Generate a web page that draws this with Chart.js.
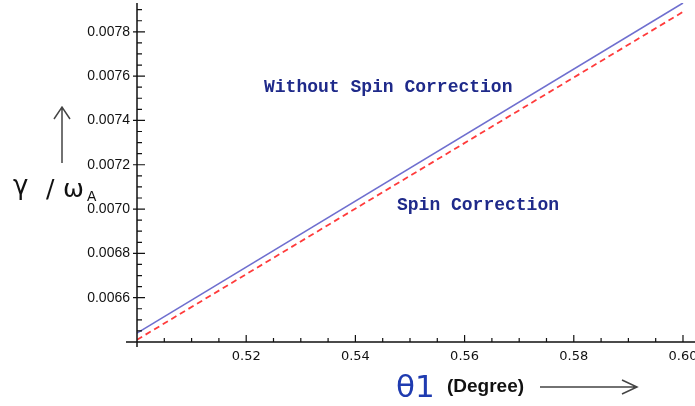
<!DOCTYPE html>
<html>
<head>
<meta charset="utf-8">
<script src="https://cdn.jsdelivr.net/npm/chart.js@4"></script>
<style>
  html, body { margin: 0; padding: 0; background: #fff; }
  #wrap { width: 695px; height: 406px; position: relative; }
</style>
</head>
<body>
<div id="wrap"><canvas id="chart"></canvas></div>
<script>
// --- data ---
const thetaDeg = [0.50, 0.60];
const withoutSpin = [0.00644, 0.00793];
const withSpin = [0.00641, 0.00789];
const xTicks = [0.52, 0.54, 0.56, 0.58, 0.60];
const yTicks = [0.0066, 0.0068, 0.0070, 0.0072, 0.0074, 0.0076, 0.0078];

const toPoints = (xs, ys) => xs.map((v, i) => ({ x: v, y: ys[i] }));

// axes, inward ticks, titles and annotations
const decorPlugin = {
    id: 'decor',
    afterDraw(chart) {
        const { ctx, chartArea: a, scales: { x, y } } = chart;
        ctx.save();
        ctx.strokeStyle = '#111';
        ctx.lineWidth = 1.5;

        // axis lines
        ctx.beginPath();
        ctx.moveTo(a.left, a.top);
        ctx.lineTo(a.left, a.bottom + 5);
        ctx.moveTo(a.left - 11, a.bottom);
        ctx.lineTo(a.right, a.bottom);
        ctx.stroke();

        // x ticks (major + minor), pointing up
        ctx.lineWidth = 1.2;
        ctx.beginPath();
        for (let v = 0.505; v <= x.max + 1e-9; v += 0.005) {
            const px = x.getPixelForValue(v);
            const major = Math.abs(Math.round(v / 0.02) * 0.02 - v) < 1e-6;
            ctx.moveTo(px, a.bottom);
            ctx.lineTo(px, a.bottom - (major ? 7 : 4));
        }
        // y ticks (major + minor), pointing right
        for (let v = 0.00645; v <= y.max + 1e-9; v += 0.00005) {
            const py = y.getPixelForValue(v);
            const major = Math.abs(Math.round(v / 0.0002) * 0.0002 - v) < 1e-9;
            ctx.moveTo(a.left - (major ? 4 : 0), py);
            ctx.lineTo(a.left + (major ? 8 : 5), py);
        }
        ctx.stroke();

        // y title with up arrow
        ctx.strokeStyle = '#444';
        ctx.lineWidth = 1.5;
        ctx.beginPath();
        ctx.moveTo(62, 163);
        ctx.lineTo(62, 107);
        ctx.moveTo(54, 119);
        ctx.lineTo(62, 107);
        ctx.lineTo(70, 119);
        ctx.stroke();

        ctx.fillStyle = '#111';
        ctx.textBaseline = 'alphabetic';
        ctx.font = '26px "DejaVu Sans"';
        ctx.fillText('γ', 13, 194);
        ctx.font = '25px "DejaVu Sans"';
        ctx.fillText('/', 46, 197);
        ctx.fillText('ω', 63, 197);
        ctx.font = '14px "Liberation Sans"';
        ctx.fillText('A', 87, 201);

        // x title with right arrow
        ctx.fillStyle = '#1f3bb0';
        ctx.font = '31px "DejaVu Sans"';
        ctx.fillText('θ1', 396, 397);
        ctx.fillStyle = '#111';
        ctx.font = 'bold 19px "Liberation Sans"';
        ctx.fillText('(Degree)', 447, 392);
        ctx.beginPath();
        ctx.moveTo(540, 387);
        ctx.lineTo(637, 387);
        ctx.moveTo(622, 380);
        ctx.lineTo(637, 387);
        ctx.lineTo(622, 394);
        ctx.stroke();

        // curve annotations
        ctx.fillStyle = '#1f2a8a';
        ctx.font = 'bold 18px "Liberation Mono"';
        ctx.textBaseline = 'middle';
        ctx.fillText('Without Spin Correction', 264, 87);
        ctx.fillText('Spin Correction', 397, 205);
        ctx.restore();
    }
};

new Chart(document.getElementById('chart'), {
    type: 'line',
    data: {
        datasets: [
            {
                label: 'Without Spin Correction',
                data: toPoints(thetaDeg, withoutSpin),
                borderColor: '#6f6fcf',
                borderWidth: 1.6,
                pointRadius: 0,
                tension: 0
            },
            {
                label: 'Spin Correction',
                data: toPoints(thetaDeg, withSpin),
                borderColor: '#ff3b3b',
                borderWidth: 1.8,
                borderDash: [6, 4],
                pointRadius: 0,
                tension: 0
            }
        ]
    },
    options: {
        responsive: true,
        maintainAspectRatio: false,
        animation: false,
        layout: { padding: { top: 3, left: 0, right: 0, bottom: 0 } },
        plugins: {
            legend: { display: false },
            tooltip: { enabled: false }
        },
        scales: {
            x: {
                type: 'linear',
                min: 0.50,
                max: 0.6022,
                grid: { display: false, drawTicks: false },
                border: { display: false },
                afterBuildTicks: s => { s.ticks = xTicks.map(v => ({ value: v })); },
                afterFit: s => { s.height = 64; s.paddingLeft = 0; s.paddingRight = 0; },
                ticks: {
                    padding: 7,
                    maxRotation: 0,
                    autoSkip: false,
                    color: '#111',
                    font: { family: '"DejaVu Sans"', size: 13 },
                    callback: v => Number(v).toFixed(2)
                }
            },
            y: {
                type: 'linear',
                min: 0.0064,
                max: 0.00793,
                grid: { display: false, drawTicks: false },
                border: { display: false },
                afterBuildTicks: s => { s.ticks = yTicks.map(v => ({ value: v })); },
                afterFit: s => { s.width = 137; s.paddingTop = 0; s.paddingBottom = 0; },
                ticks: {
                    padding: 7,
                    autoSkip: false,
                    color: '#111',
                    font: { family: '"Liberation Sans"', size: 14 },
                    callback: v => Number(v).toFixed(4)
                }
            }
        }
    },
    plugins: [decorPlugin]
});
</script>
</body>
</html>
